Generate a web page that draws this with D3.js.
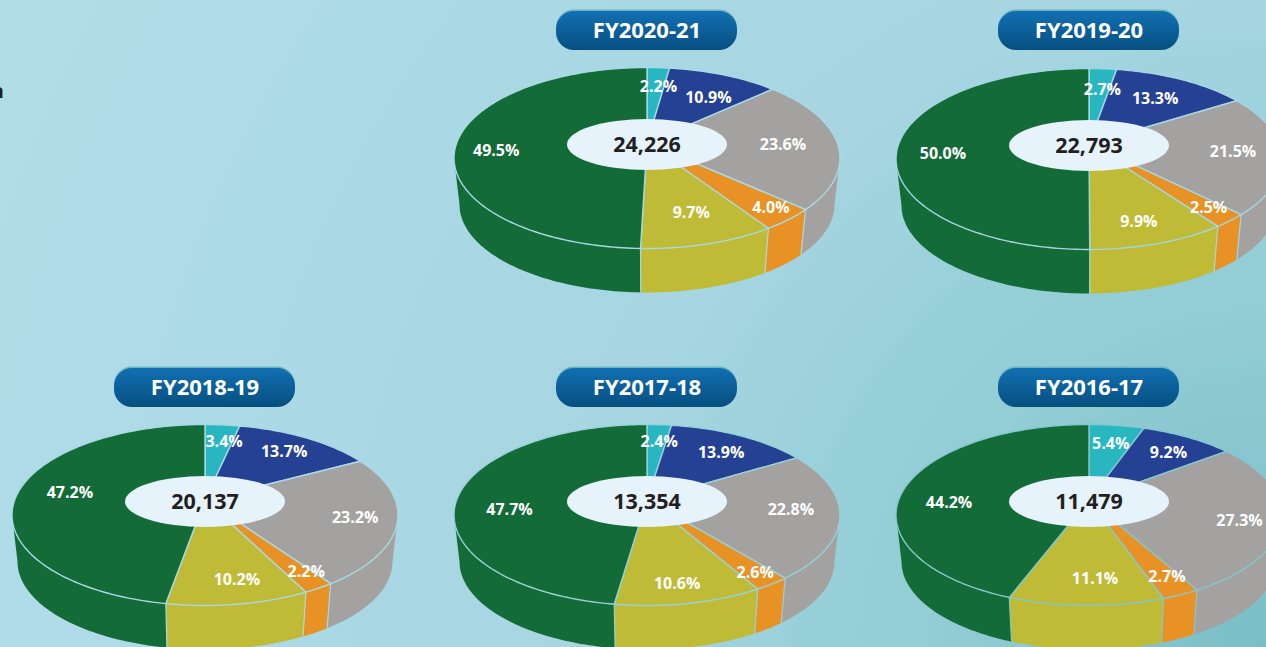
<!DOCTYPE html>
<html>
<head>
<meta charset="utf-8">
<style>
html, body { margin: 0; padding: 0; overflow: hidden; }
svg { display: block; font-family: "Open Sans", sans-serif; }
</style>
<script src="https://cdn.jsdelivr.net/npm/d3@7"></script>
</head>
<body>
<div id="visual"></div>
<script>
var years = ["FY2020-21", "FY2019-20", "FY2018-19", "FY2017-18", "FY2016-17"];
var totals = ["24,226", "22,793", "20,137", "13,354", "11,479"];

// share of each slice, clockwise from 12 o'clock
var shares2021 = [2.2, 10.9, 23.6, 4.0, 9.7, 49.5];
var shares1920 = [2.7, 13.3, 21.5, 2.5, 9.9, 50.0];
var shares1819 = [3.4, 13.7, 23.2, 2.2, 10.2, 47.2];
var shares1718 = [2.4, 13.9, 22.8, 2.6, 10.6, 47.7];
var shares1617 = [5.4, 9.2, 27.3, 2.7, 11.1, 44.2];
var allShares = [shares2021, shares1920, shares1819, shares1718, shares1617];

var sliceColors = ["#28b7c0", "#254193", "#a3a2a0", "#e89225", "#bfbb36", "#136b38"];

var w = 1266, h = 647;
var rx = 193, ry = 90.5, depth = 44;
var rxLow = 187.5, ryLow = 88;
var tilt = -0.166; // perspective, pushes the pie hub above the middle of the ellipse

// the wall only shows between the two points where the rim is widest
var wallStart = Math.acos(tilt);
var wallEnd = 2 * Math.PI - wallStart;

var panelX = d3.scalePoint().domain([0, 1, 2]).range([205, 1089]);
var panels = [
    {col: 1, cy: 158, line: "#a8d9e4"},
    {col: 2, cy: 159, line: "#a4d6e1"},
    {col: 0, cy: 515, line: "#a8d9e4"},
    {col: 1, cy: 515, line: "#98d1da"},
    {col: 2, cy: 515, line: "#84c8cf"}
];

// the labels were placed by hand in the original, so shift them off the mid-angle spot
var labelNudges = [
    [[3, 0], [4, 5], [-1, 2], [26, 12], [2, 1], [-14, 8]],
    [[3, 2], [-3, 2], [6, 0], [22, 10], [2, 10], [-9, 9]],
    [[6, -2], [4, -2], [13, 2], [23, 11], [9, 8], [0, -2]],
    [[3, -2], [5, 0], [6, -1], [22, 15], [1, 13], [-2, 14]],
    [[1, -1], [6, -1], [13, 7], [15, 12], [8, 7], [-8, 14]]
];

var color = d3.scaleOrdinal().domain(d3.range(6)).range(sliceColors);
var pie = d3.pie().sort(null).value(function(d) { return d; });
var line = d3.line();

var svg = d3.select("#visual").append("svg")
    .attr("width", w)
    .attr("height", h);

var defs = svg.append("defs");
var bg = defs.append("radialGradient").attr("id", "bg")
    .attr("gradientUnits", "userSpaceOnUse")
    .attr("cx", 1266).attr("cy", 647).attr("r", 1500);
bg.append("stop").attr("offset", "0").attr("stop-color", "#79bfc5");
bg.append("stop").attr("offset", "0.22").attr("stop-color", "#92ccd5");
bg.append("stop").attr("offset", "0.29").attr("stop-color", "#96cfd8");
bg.append("stop").attr("offset", "0.45").attr("stop-color", "#a7d6e2");
bg.append("stop").attr("offset", "0.6").attr("stop-color", "#a9d8e4");
bg.append("stop").attr("offset", "1").attr("stop-color", "#b3deea");
var pill = defs.append("linearGradient").attr("id", "pill")
    .attr("x1", 0).attr("y1", 0).attr("x2", 0).attr("y2", 1);
pill.append("stop").attr("offset", "0").attr("stop-color", "#1270b2");
pill.append("stop").attr("offset", "1").attr("stop-color", "#064f80");

svg.append("rect")
    .attr("width", w)
    .attr("height", h)
    .attr("fill", "url(#bg)");

// cut off word at the left edge of the page
svg.append("text")
    .attr("x", 4)
    .attr("y", 98)
    .attr("text-anchor", "end")
    .attr("font-size", 20)
    .attr("font-weight", 700)
    .attr("fill", "#231f20")
    .text("n");

// angle around the pie -> page position on an ellipse, with perspective
function project(angle, r, a, b) {
    var u = Math.sin(angle) * r;
    var v = -Math.cos(angle) * r;
    var k = 1 + tilt * v;
    return [a * Math.sqrt(1 - tilt * tilt) * u / k, b * (v + tilt) / k];
}

function topPoint(angle, r) {
    return project(angle, r, rx, ry);
}

function rimPoint(angle) {
    return topPoint(angle, 1);
}

function lowPoint(angle) {
    var p = project(angle, 1, rxLow, ryLow);
    return [p[0], p[1] + depth + ry - ryLow];
}

function anglesBetween(a0, a1) {
    var n = Math.max(2, Math.ceil((a1 - a0) / 0.02));
    return d3.range(n + 1).map(function(i) {
        return a0 + (a1 - a0) * i / n;
    });
}

function wallPath(d) {
    var a0 = Math.max(d.startAngle, wallStart);
    var a1 = Math.min(d.endAngle, wallEnd);
    if (a1 <= a0) return null;
    var a = anglesBetween(a0, a1);
    var edge = a.map(function(t) { return rimPoint(t); });
    var low = a.slice().reverse().map(function(t) { return lowPoint(t); });
    return line(edge.concat(low)) + "Z";
}

function drawPanel(i) {
    var panel = panels[i];
    var g = svg.append("g")
        .attr("transform", "translate(" + panelX(panel.col) + "," + panel.cy + ")");
    var slices = pie(allShares[i]);

    // outer wall
    g.selectAll(".wall")
        .data(slices)
        .enter()
        .append("path")
        .attr("class", "wall")
        .attr("fill", function(d) { return color(d.index); })
        .attr("d", wallPath);

    // seams on the front of the wall
    g.selectAll(".seam")
        .data(slices.filter(function(d) { return d.endAngle > wallStart && d.endAngle < wallEnd; }))
        .enter()
        .append("path")
        .attr("class", "seam")
        .attr("stroke", panel.line)
        .attr("stroke-width", 1.2)
        .attr("d", function(d) {
            return line([rimPoint(d.endAngle), lowPoint(d.endAngle)]);
        });

    // top face
    g.selectAll(".face")
        .data(slices)
        .enter()
        .append("path")
        .attr("class", "face")
        .attr("fill", function(d) { return color(d.index); })
        .attr("stroke", panel.line)
        .attr("stroke-width", 1.4)
        .attr("stroke-linejoin", "round")
        .attr("d", function(d) {
            var rim = anglesBetween(d.startAngle, d.endAngle).map(function(t) { return rimPoint(t); });
            return line([topPoint(0, 0)].concat(rim)) + "Z";
        });

    // slice labels
    g.selectAll(".pct")
        .data(slices)
        .enter()
        .append("text")
        .attr("class", "pct")
        .attr("text-anchor", "middle")
        .attr("font-size", 16)
        .attr("font-weight", 700)
        .attr("fill", "#fff")
        .attr("transform", function(d) {
            var p = topPoint((d.startAngle + d.endAngle) / 2, 0.72);
            var nudge = labelNudges[i][d.index];
            return "translate(" + (p[0] + nudge[0]) + "," + (p[1] + 5.5 + nudge[1]) + ")";
        })
        .text(function(d) { return d.value.toFixed(1) + "%"; });

    // hub
    var hubY = topPoint(0, 0)[1];
    g.append("ellipse")
        .attr("cx", 0)
        .attr("cy", hubY + 1.5)
        .attr("rx", 80)
        .attr("ry", 25.5)
        .attr("fill", "#e6f3fb");
    g.append("text")
        .attr("x", 0)
        .attr("y", hubY + 9)
        .attr("text-anchor", "middle")
        .attr("font-size", 21.5)
        .attr("font-weight", 700)
        .attr("fill", "#231f20")
        .text(totals[i]);

    // year pill
    var pillTop = panel.cy === 159 ? -148 : -147;
    g.append("rect")
        .attr("x", -91)
        .attr("y", pillTop - 1.5)
        .attr("width", 181)
        .attr("height", 39)
        .attr("rx", 18)
        .attr("fill", "#6db5bd");
    g.append("rect")
        .attr("x", -91)
        .attr("y", pillTop)
        .attr("width", 181)
        .attr("height", 39)
        .attr("rx", 18)
        .attr("fill", "url(#pill)");
    g.append("text")
        .attr("x", 0)
        .attr("y", pillTop + 27)
        .attr("text-anchor", "middle")
        .attr("font-size", 22)
        .attr("font-weight", 700)
        .attr("fill", "#fff")
        .text(years[i]);
}

years.forEach(function(y, i) {
    drawPanel(i);
});
</script>
</body>
</html>
